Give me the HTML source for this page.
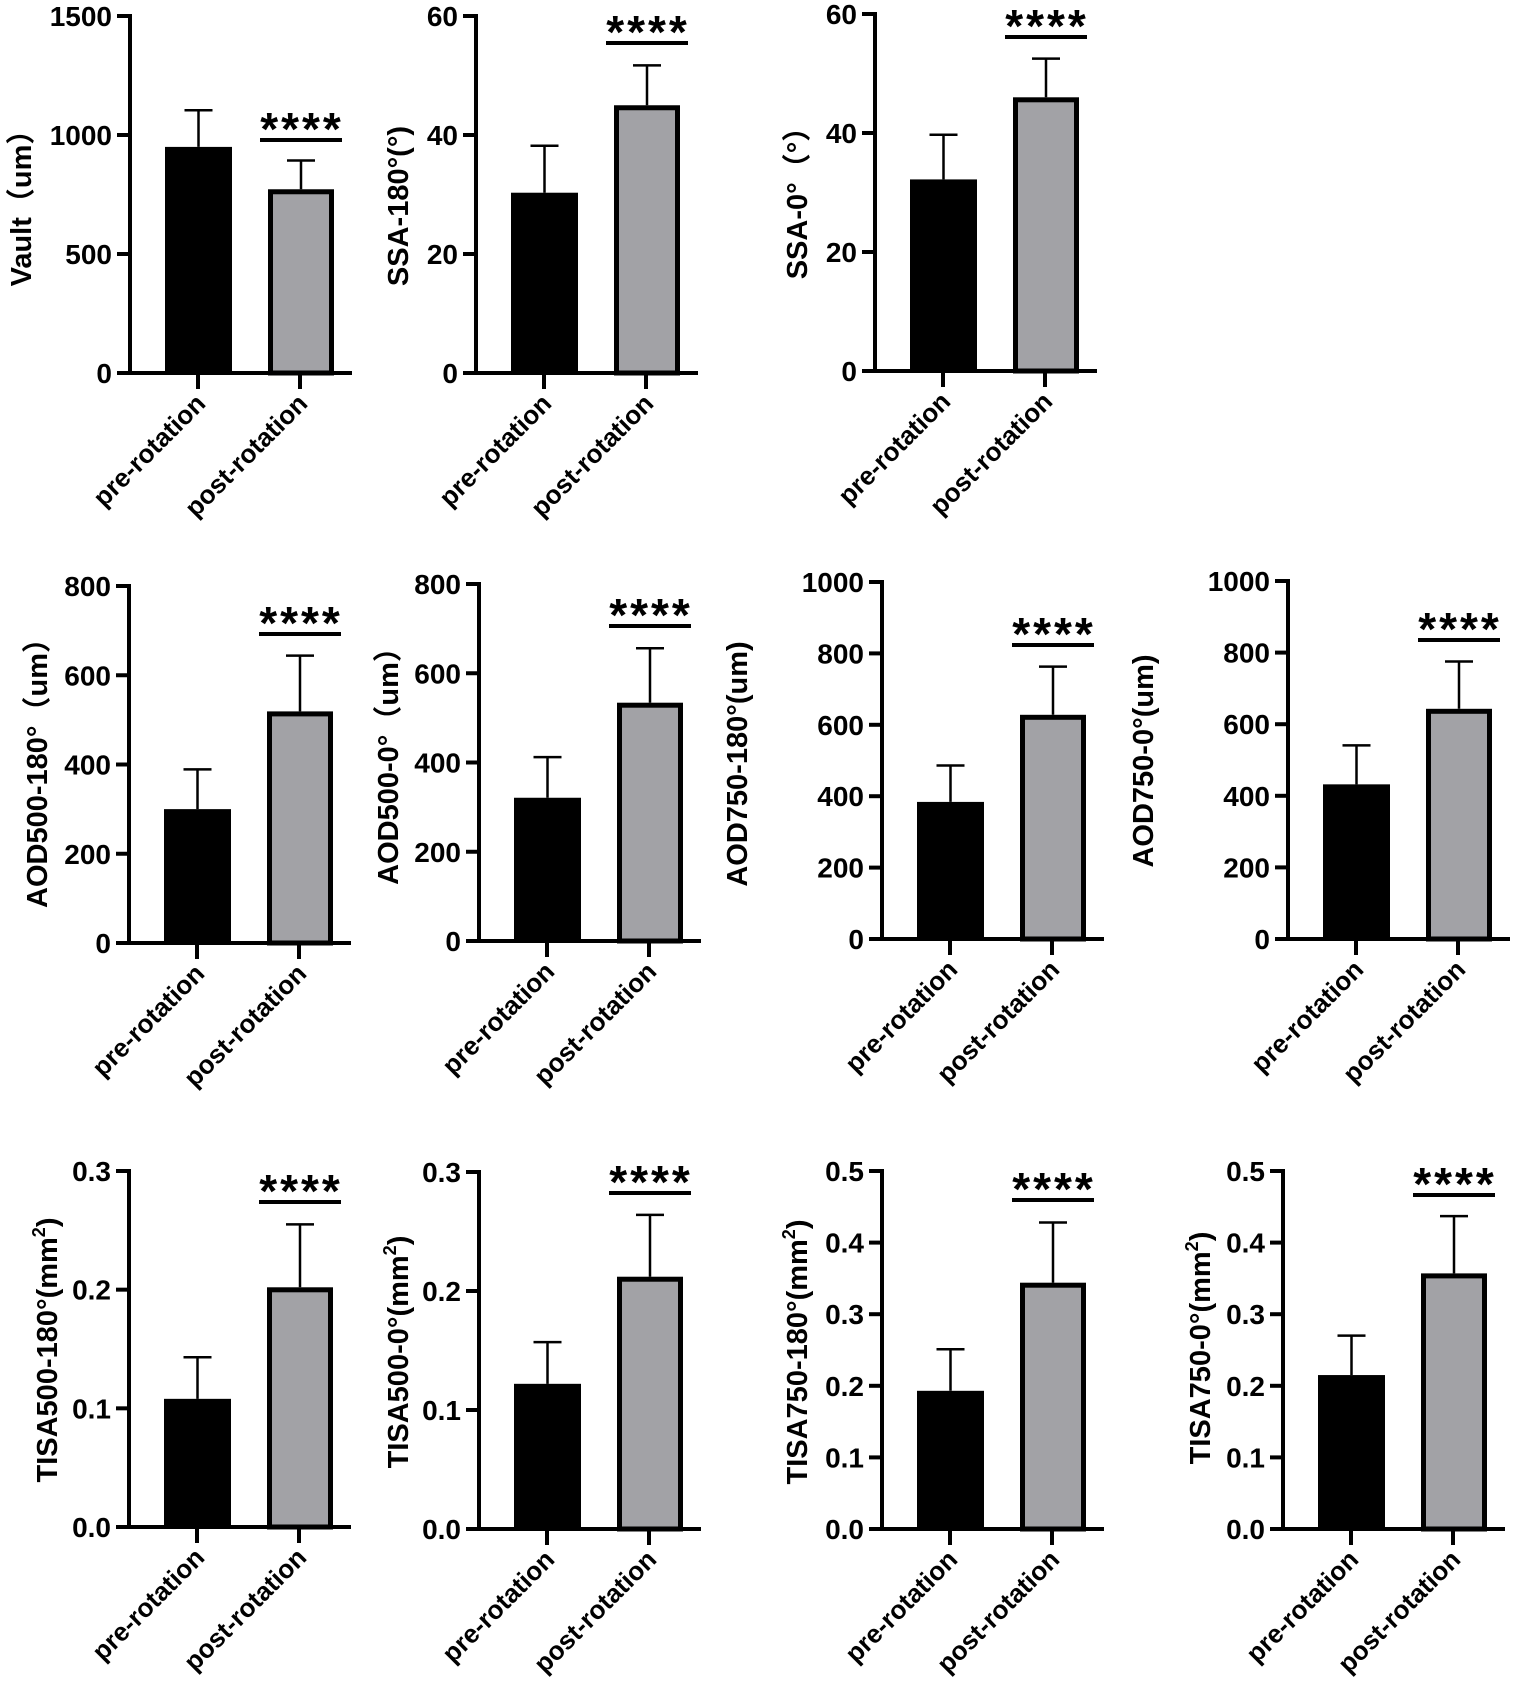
<!DOCTYPE html>
<html><head><meta charset="utf-8">
<style>
html,body{margin:0;padding:0;background:#fff;}
svg{display:block;}
text{font-family:"Liberation Sans","Noto Sans CJK SC",sans-serif;font-weight:bold;fill:#000;}
</style></head>
<body>
<svg id="fig" width="1535" height="1694" viewBox="0 0 1535 1694" xmlns="http://www.w3.org/2000/svg"></svg>
<script>
// ---- data ----
const categories = ["pre-rotation", "post-rotation"];
const titles = ["Vault（um）", "SSA-180°(°)", "SSA-0°（°）", "AOD500-180°（um）", "AOD500-0°（um）", "AOD750-180°(um)", "AOD750-0°(um)", "TISA500-180°(mm", "TISA500-0°(mm", "TISA750-180°(mm", "TISA750-0°(mm"];
const preMeans  = [950, 30.3, 32.2, 300, 321, 384, 432, 0.108, 0.122, 0.193, 0.215];
const postMeans = [772, 45.0, 46.0, 519, 534, 628, 643, 0.202, 0.212, 0.344, 0.357];
const preSD     = [154, 7.9, 7.5, 89, 91, 102, 109, 0.035, 0.035, 0.058, 0.055];
const postSD    = [121, 6.7, 6.5, 125, 122, 135, 132, 0.053, 0.052, 0.084, 0.080];
const axisMax   = [1500, 60, 60, 800, 800, 1000, 1000, 0.3, 0.3, 0.5, 0.5];
const axisStep  = [500, 20, 20, 200, 200, 200, 200, 0.1, 0.1, 0.1, 0.1];
const tickDecimals = [0, 0, 0, 0, 0, 0, 0, 1, 1, 1, 1];
const sigLabels = ["****", "****", "****", "****", "****", "****", "****", "****", "****", "****", "****"];

// ---- layout (positions only) ----
const panels = [
  {ax:130, top:16, zero:373, tx:21, ty:201},
  {ax:476, top:16, zero:373, tx:398, ty:206},
  {ax:875, top:14, zero:371, tx:797, ty:196},
  {ax:129, top:586, zero:943, tx:37, ty:766},
  {ax:479, top:584, zero:941, tx:388, ty:759},
  {ax:882, top:582, zero:939, tx:737, ty:764},
  {ax:1288, top:581, zero:939, tx:1143, ty:761},
  {ax:129, top:1171, zero:1527, tx:47, ty:1350},
  {ax:479, top:1172, zero:1529, tx:398, ty:1352},
  {ax:882, top:1171, zero:1529, tx:797, ty:1352},
  {ax:1283, top:1171, zero:1529, tx:1200, ty:1348}
];
const sigY = [140, 43, 37, 634, 626, 645, 640, 1202, 1193, 1200, 1195];

const NS = "http://www.w3.org/2000/svg";
const svg = document.getElementById("fig");
function mk(tag, attrs, parent){
  const e = document.createElementNS(NS, tag);
  for (const k in attrs) e.setAttribute(k, attrs[k]);
  (parent||svg).appendChild(e);
  return e;
}

panels.forEach((p, i) => {
  const g = mk("g", {});
  
  
  const y = v => p.zero - v / axisMax[i] * (p.zero - p.top);
  const xPre = [p.ax+35, p.ax+102], xPost = [p.ax+138, p.ax+204];
  const centers = [(xPre[0]+xPre[1])/2, (xPost[0]+xPost[1])/2];

  [[preMeans, preSD], [postMeans, postSD]].forEach((s, j) => {
    const m = s[0][i], sd = s[1][i], cx = centers[j];
    const eb = mk("path", {d:`M${cx},${y(m)} V${y(m+sd)} M${cx-14},${y(m+sd)} H${cx+14}`, stroke:"#000", "stroke-width":2.5, fill:"none"}, g);
    
    
  });
  const b1 = mk("rect", {x:xPre[0], y:y(preMeans[i]), width:xPre[1]-xPre[0], height:p.zero-y(preMeans[i]), fill:"#000"}, g);
  
  
  const b2 = mk("rect", {x:xPost[0]+2.5, y:y(postMeans[i])+2.5, width:xPost[1]-xPost[0]-5, height:p.zero-y(postMeans[i])-2.5, fill:"#a2a2a6", stroke:"#000", "stroke-width":5}, g);
  
  

  const ya = mk("line", {x1:p.ax, y1:p.top-2, x2:p.ax, y2:p.zero, stroke:"#000", "stroke-width":4}, g);
  
  
  const xa = mk("line", {x1:p.ax-13, y1:p.zero, x2:p.ax+222, y2:p.zero, stroke:"#000", "stroke-width":4}, g);
  
  

  const n = Math.round(axisMax[i]/axisStep[i]);
  for (let k=0; k<=n; k++){
    const v = k*axisStep[i], ty = y(v);
    mk("line", {x1:p.ax-13, y1:ty, x2:p.ax, y2:ty, stroke:"#000", "stroke-width":4}, g);
    const t = mk("text", {x:p.ax-18, y:ty+10, "text-anchor":"end", "font-size":28}, g);
    t.textContent = v.toFixed(tickDecimals[i]);
    
    
  }
  [p.ax+68, p.ax+170].forEach((cx, j) => {
    mk("line", {x1:cx, y1:p.zero, x2:cx, y2:p.zero+16, stroke:"#000", "stroke-width":4}, g);
    const t = mk("text", {x:0, y:0, "text-anchor":"end", "font-size":26, transform:`translate(${cx+9},${p.zero+32}) rotate(-45)`}, g);
    t.textContent = categories[j];
    
    
  });
  const tt = mk("text", {x:0, y:0, "text-anchor":"middle", "font-size":29, transform:`translate(${p.tx+10},${p.ty}) rotate(-90)`}, g);
  
  
  if (i >= 7){
    tt.appendChild(document.createTextNode(titles[i]));
    const sup = mk("tspan", {"font-size":18, dy:-12}, tt);
    sup.textContent = "2";
    const close = mk("tspan", {dy:12}, tt);
    close.textContent = ")";
  } else {
    tt.textContent = titles[i];
  }
  const sl = mk("line", {x1:p.ax+130, y1:sigY[i], x2:p.ax+212, y2:sigY[i], stroke:"#000", "stroke-width":4}, g);
  
  
  const st = mk("text", {x:p.ax+172, y:sigY[i]+5, "text-anchor":"middle", "font-size":46, "letter-spacing":"3"}, g);
  st.textContent = sigLabels[i];
  
  
});
</script>
</body></html>
